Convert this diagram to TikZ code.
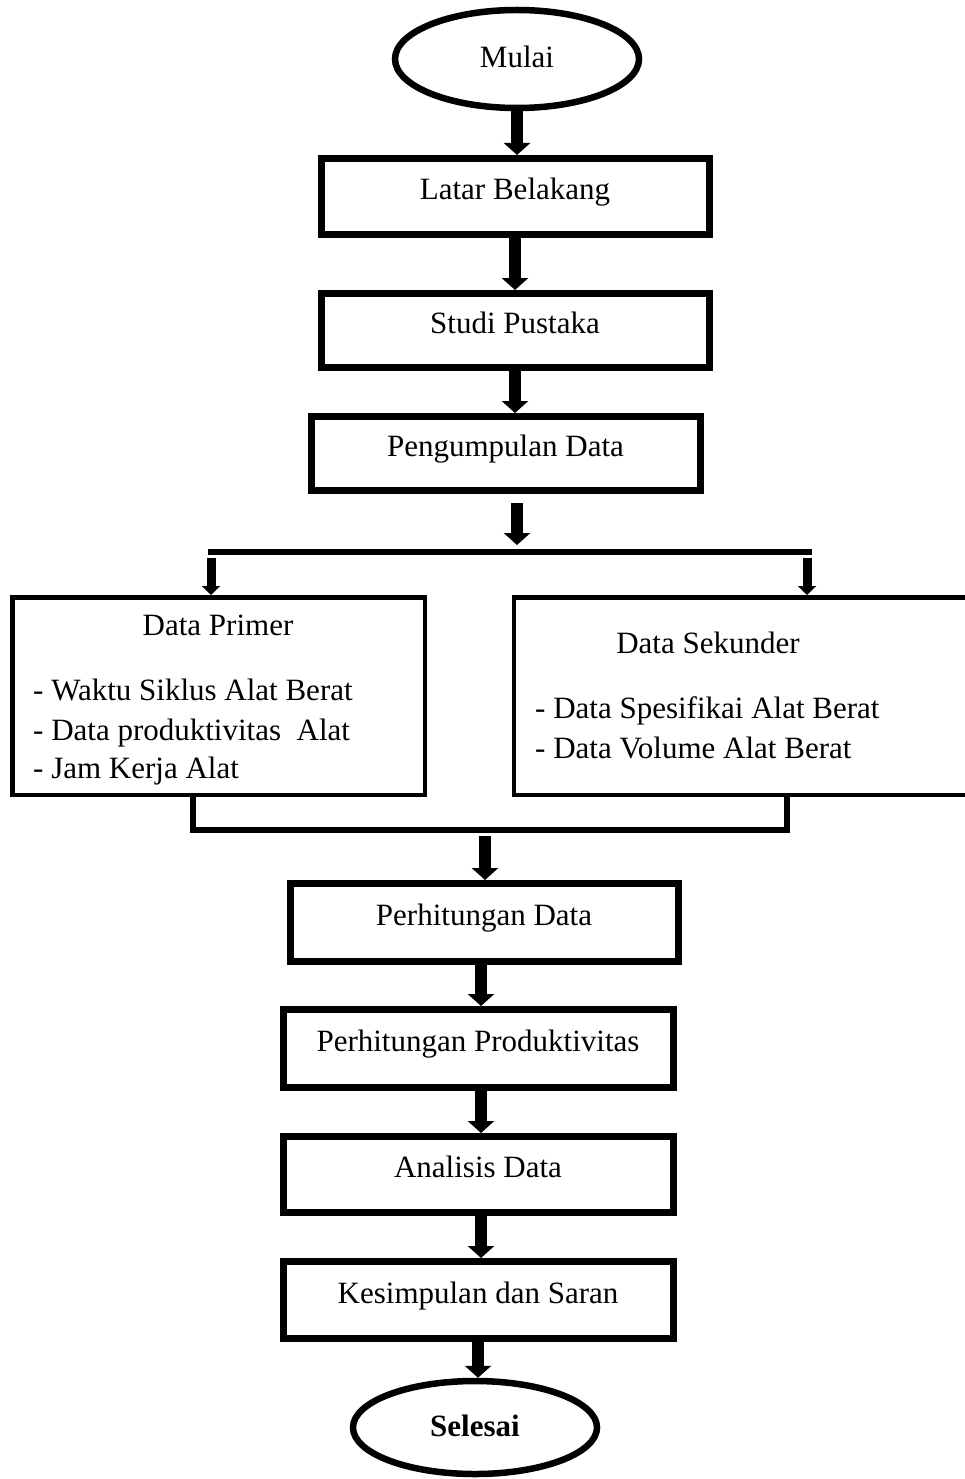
\documentclass[tikz,border=0pt]{standalone}
\usepackage{fontspec}
\setmainfont{Liberation Serif}
\usetikzlibrary{arrows.meta,shapes.geometric}
\begin{document}
\begin{tikzpicture}[x=1pt,y=-1pt,
  every node/.style={font=\fontsize{31}{37}\selectfont, inner sep=0pt},
  stepbox/.style={draw, line width=7pt, rectangle, minimum width=388pt, text height=21pt, text depth=15pt},
  terminal/.style={draw, ellipse, line width=6.5pt, minimum width=244pt, text height=21pt, text depth=4pt},
  databox/.style={draw, line width=4.5pt, rectangle, minimum height=197.5pt},
  bigarrow/.style={line width=12pt, -{Triangle[width=26pt,length=12pt]}},
  smallarrow/.style={line width=9pt, -{Triangle[width=18pt,length=9pt]}},
  joinline/.style={line width=6pt, line join=miter},
  txt/.style={anchor=base}]
\useasboundingbox (0,0) rectangle (964,1479);

% main column
\node[terminal, minimum height=98pt] (mu) at (517,59) {Mulai};
\node[stepbox, minimum height=76pt] (lb) at (515,196.5) {Latar Belakang};
\node[stepbox, minimum height=74pt] (sp) at (515,330.5) {Studi Pustaka};
\node[stepbox, minimum height=74pt, minimum width=389pt] (pd) at (505.5,453.5) {Pengumpulan Data};

% data boxes
\node[databox, minimum width=412.5pt] (dp) at (218.5,696) {};
\node[databox, minimum width=476pt] (ds) at (752,696) {};
\node[txt] (dpt) at (218,635) {Data Primer};
\node[txt, anchor=base west] (dp1) at (33,700) {- Waktu Siklus Alat Berat};
\node[txt, anchor=base west] (dp2) at (33,740) {- Data produktivitas~ Alat};
\node[txt, anchor=base west] (dp3) at (33,778) {- Jam Kerja Alat};
\node[txt] (dst) at (708,653) {Data Sekunder};
\node[txt, anchor=base west] (ds1) at (535,718) {- Data Spesifikai Alat Berat};
\node[txt, anchor=base west] (ds2) at (535,758) {- Data Volume Alat Berat};

\node[stepbox, minimum height=78pt] (hd) at (484,922.5) {Perhitungan Data};
\node[stepbox, minimum height=78pt, minimum width=390pt] (hp) at (478,1048.5) {Perhitungan Produktivitas};
\node[stepbox, minimum height=76pt, minimum width=390pt] (ad) at (478,1174.5) {Analisis Data};
\node[stepbox, minimum height=77pt, minimum width=390pt] (ks) at (478,1300) {Kesimpulan dan Saran};
\node[terminal, minimum height=93pt] (se) at (475,1427.5) {\textbf{Selesai}};

% helper coordinates
\coordinate (s0) at (517,552);
\coordinate (sl) at (208,552);
\coordinate (sr) at (812,552);
\coordinate (a1) at (211,558);
\coordinate (a2) at (807,558);
\coordinate (jl) at (193,830);
\coordinate (jr) at (787,830);
\coordinate (j0) at (485,836);
\coordinate (c5) at (481,0);
\coordinate (c6) at (478,0);

% connectors
\draw[bigarrow] (mu.south) -- (mu.south |- lb.north);
\draw[bigarrow] (lb.south) -- (lb.south |- sp.north);
\draw[bigarrow] (sp.south) -- (sp.south |- pd.north);
\draw[bigarrow] ([yshift=-9pt]pd.south -| s0) -- ([yshift=7pt]s0);
\draw[joinline] (sl) -- (sr);
\draw[smallarrow] (a1) -- (a1 |- dp.north);
\draw[smallarrow] (a2) -- (a2 |- ds.north);
\draw[joinline] ([yshift=2pt]jl |- dp.south) -- (jl) -- (jr) -- ([yshift=2pt]jr |- ds.south);
\draw[bigarrow] (j0) -- (j0 |- hd.north);
\draw[bigarrow] (hd.south -| c5) -- (hp.north -| c5);
\draw[bigarrow] (hp.south -| c5) -- (ad.north -| c5);
\draw[bigarrow] (ad.south -| c5) -- (ks.north -| c5);
\draw[bigarrow] (ks.south -| c6) -- (se.north -| c6);
\end{tikzpicture}
\end{document}
